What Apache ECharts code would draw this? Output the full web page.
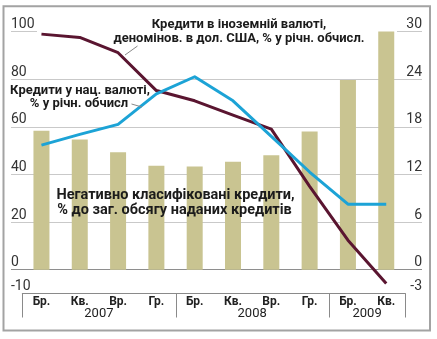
<!DOCTYPE html>
<html>
<head>
<meta charset="utf-8">
<script src="https://cdn.jsdelivr.net/npm/echarts@6/dist/echarts.min.js"></script>
<style>
  html, body { margin: 0; padding: 0; background: #fff; }
  #chart { width: 437px; height: 339px; }
</style>
</head>
<body>
<div id="chart"></div>
<script>
// Quarters (Бр. = березень, Кв. = квітень ... ) and the years they belong to
const quarters = ['Бр.', 'Кв.', 'Вр.', 'Гр.', 'Бр.', 'Кв.', 'Вр.', 'Гр.', 'Бр.', 'Кв.'];
const years = ['2007', '2008', '2009'];
const yearSpans = [4, 4, 2];

// Negatively classified loans, % of total loans (right scale)
const badLoansShare = [17.5, 16.4, 14.8, 13.1, 13.0, 13.6, 14.4, 17.4, 23.9, 30.0];
// Foreign-currency loans (USD-denominated), % y/y (left scale)
const fxLoansGrowth = [98.9, 97.5, 91.1, 75.2, 70.9, 64.9, 59.0, 35.0, 12.4, -5.8];
// Hryvnia loans, % y/y (left scale)
const uahLoansGrowth = [52.3, 56.8, 61.0, 73.8, 81.0, 70.9, 56.0, 41.0, 27.5, 27.5];

// Tick labels shown on each scale
const leftTicks = [-10, 0, 20, 40, 60, 80, 100];
const rightTicks = [-3, 0, 6, 12, 18, 24, 30];

const FONT = 'Roboto, "Open Sans", sans-serif';
const W = 437, H = 339;
const plotTop = 31.5, plotBottom = 45.5;
const bandLeft = 22.3, bandRight = 31.6;
const bandW = (W - bandLeft - bandRight) / quarters.length;

// Year labels sit under the middle of their group of quarters
const yearAt = {};
const yearBoundaries = [];
let start = 0;
yearSpans.forEach((n, k) => {
  yearAt[start + n / 2 - 1] = years[k];
  yearBoundaries.push(start);
  start += n;
});
yearBoundaries.push(start);

// Horizontal grid: one colour per step of 10 on the left scale
const gridColors = [];
for (let v = -10; v <= 100; v += 10) {
  if (v === 0) gridColors.push('#8e8e8e');
  else if (v % 20 === 0 && v !== 100) gridColors.push('#c9c9c9');
  else gridColors.push('rgba(0,0,0,0)');
}

const chart = echarts.init(document.getElementById('chart'), null, { renderer: 'canvas' });

const option = {
  animation: false,
  backgroundColor: '#fff',
  grid: [
    { left: 11, right: 15, top: plotTop, bottom: plotBottom },
    { left: bandLeft, right: bandRight, top: plotTop, bottom: plotBottom }
  ],
  xAxis: [
    { gridIndex: 0, type: 'category', data: [''], show: false },
    {
      gridIndex: 1, type: 'category', data: quarters, position: 'bottom',
      axisLine: { onZero: false, lineStyle: { color: '#8a8a8a', width: 1 } },
      axisTick: { length: 11.5, interval: 0, lineStyle: { color: '#8a8a8a' } },
      axisLabel: { interval: 0, margin: 2, fontFamily: FONT, fontWeight: 'bold', fontSize: 12, color: '#222' }
    },
    {
      gridIndex: 1, type: 'category', data: quarters, position: 'bottom',
      axisLine: { show: false, onZero: false },
      axisTick: { show: false },
      axisLabel: {
        interval: 0, margin: 14, fontFamily: FONT, fontSize: 13, color: '#222',
        padding: [0, 0, 0, bandW],
        formatter: (v, i) => yearAt[i] || ''
      }
    }
  ],
  yAxis: [
    {
      gridIndex: 0, type: 'value', position: 'left', min: -10, max: 100, interval: 10,
      axisLine: { show: false }, axisTick: { show: false },
      splitLine: { show: true, lineStyle: { color: gridColors, width: 1 } },
      axisLabel: {
        inside: true, margin: 0, verticalAlign: 'bottom', fontFamily: FONT, fontSize: 14, color: '#333',
        formatter: v => leftTicks.indexOf(v) >= 0 ? String(v) : ''
      }
    },
    {
      gridIndex: 0, type: 'value', position: 'right', min: -3, max: 30, interval: 3,
      axisLine: { show: false }, axisTick: { show: false }, splitLine: { show: false },
      axisLabel: {
        inside: true, margin: 0, verticalAlign: 'bottom', fontFamily: FONT, fontSize: 14, color: '#333',
        formatter: v => rightTicks.indexOf(v) >= 0 ? String(v) : ''
      }
    },
    { gridIndex: 1, type: 'value', min: -10, max: 100, show: false, splitLine: { show: false } },
    { gridIndex: 1, type: 'value', min: -3, max: 30, show: false, splitLine: { show: false } }
  ],
  series: [
    {
      name: 'Негативно класифіковані кредити', type: 'bar', xAxisIndex: 1, yAxisIndex: 3,
      data: badLoansShare, barWidth: 16, itemStyle: { color: '#c9c491' }, z: 2
    },
    {
      name: 'Кредити в іноземній валюті', type: 'line', xAxisIndex: 1, yAxisIndex: 2,
      data: fxLoansGrowth, symbol: 'none', lineStyle: { color: '#5a1530', width: 3, join: 'round' }, z: 3
    },
    {
      name: 'Кредити у нац. валюті', type: 'line', xAxisIndex: 1, yAxisIndex: 2,
      data: uahLoansGrowth, symbol: 'none', lineStyle: { color: '#1ca3d6', width: 3, join: 'round' }, z: 4
    }
  ]
};

chart.setOption(option);

// Positions taken from the axes after layout
const yTop = chart.convertToPixel({ yAxisIndex: 0 }, 100);
const yAxisLine = chart.convertToPixel({ yAxisIndex: 2 }, -10);
const boundaryX = i => chart.convertToPixel({ xAxisIndex: 1 }, Math.min(i, quarters.length - 1)) +
  (i < quarters.length ? -bandW / 2 : bandW / 2);

const capStyle = (text, x, y, size) => ({
  type: 'text', z: 10,
  style: { text, x, y, align: 'center', verticalAlign: 'middle',
           font: 'bold ' + size + 'px ' + FONT, fill: '#1b1b1b' }
});

const graphics = [
  { type: 'rect', z: 20, shape: { x: 3.5, y: 6.3, width: 426.5, height: 324.2 },
    style: { fill: 'none', stroke: '#a3a3a3', lineWidth: 2 } },
  { type: 'line', z: 5, shape: { x1: 11, y1: yTop, x2: 37, y2: yTop }, style: { stroke: '#c9c9c9', lineWidth: 1 } },
  { type: 'line', z: 5, shape: { x1: 397, y1: yTop, x2: 422, y2: yTop }, style: { stroke: '#c9c9c9', lineWidth: 1 } },

  capStyle('Кредити в іноземній валюті,', 239, 24.5, 13),
  capStyle('деномінов. в дол. США, % у річн. обчисл.', 239, 39, 13),
  { type: 'line', z: 5, shape: { x1: 125, y1: 55, x2: 137.5, y2: 46 }, style: { stroke: '#888', lineWidth: 1 } },

  capStyle('Кредити у нац. валюті,', 80, 90.5, 13),
  capStyle('% у річн. обчисл', 79, 103.5, 13),
  { type: 'line', z: 5, shape: { x1: 131.5, y1: 104, x2: 142, y2: 107 }, style: { stroke: '#888', lineWidth: 1 } },

  capStyle('Негативно класифіковані кредити,', 175.5, 195.5, 14.5),
  capStyle('% до заг. обсягу наданих кредитів', 174.5, 210.5, 14.5)
];

// Longer separators between years
yearBoundaries.forEach(i => {
  const x = Math.round(boundaryX(i)) + 0.5;
  graphics.push({ type: 'line', z: 6, shape: { x1: x, y1: yAxisLine, x2: x, y2: yAxisLine + 24 },
                  style: { stroke: '#8a8a8a', lineWidth: 1 } });
});

chart.setOption({ graphic: graphics });
</script>
</body>
</html>
